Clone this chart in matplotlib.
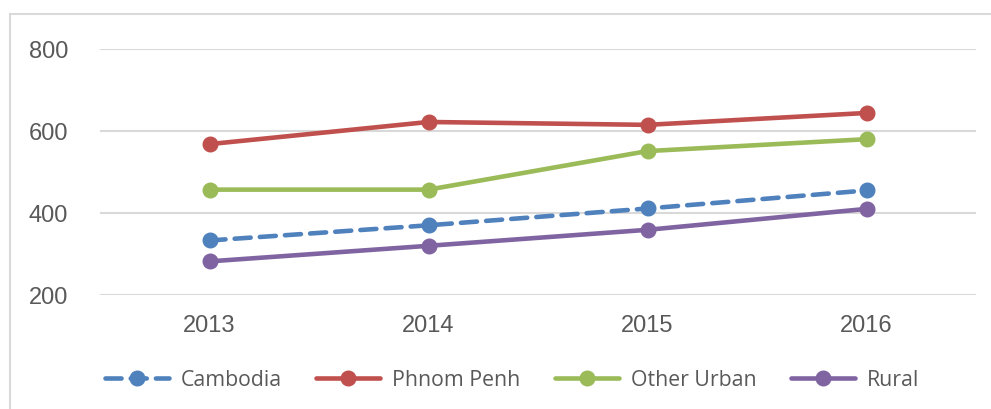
import matplotlib
matplotlib.use("Agg")
import matplotlib.pyplot as plt
from matplotlib.patches import Rectangle

years = ["2013", "2014", "2015", "2016"]
cambodia = [333, 370, 411, 455]
phnom_penh = [568, 622, 615, 644]
other_urban = [457, 457, 551, 580]
rural = [282, 320, 359, 410]
y_ticks = [200, 400, 600, 800]

W, H = 991, 410
fig = plt.figure(figsize=(W / 100, H / 100), dpi=100)

# outer chart frame
fig.patches.append(Rectangle((10 / W, -0.1), 1.2, 1 - 15 / H + 0.1, transform=fig.transFigure,
                             fill=False, edgecolor="#D9D9D9", linewidth=1.5, zorder=0))

ax = fig.add_axes([100 / W, 1 - 296 / H, (976 - 100) / W, (296 - 50) / H])
x = [i + 0.5 for i in range(len(years))]

lw = 3.3
ms = 10.5
series = [
    ("Cambodia", cambodia, "#4F81BD", "dashed"),
    ("Phnom Penh", phnom_penh, "#C0504D", "solid"),
    ("Other Urban", other_urban, "#9BBB59", "solid"),
    ("Rural", rural, "#8064A2", "solid"),
]
for name, vals, col, style in series:
    if style == "dashed":
        ax.plot(x, vals, color=col, lw=lw, marker="o", ms=ms, dashes=(3.5, 2),
                dash_capstyle="round", label=name, zorder=3)
    else:
        ax.plot(x, vals, color=col, lw=lw, marker="o", ms=ms,
                solid_capstyle="round", label=name, zorder=3)

ax.set_xlim(0, len(years))
ax.set_ylim(200, 800)
ax.set_yticks(y_ticks)
ax.set_xticks(x)
ax.set_xticklabels(years)
ax.grid(axis="y", color="#D9D9D9", lw=1.5)
ax.set_axisbelow(True)
for s in ax.spines.values():
    s.set_visible(False)
ax.tick_params(length=0, labelsize=17, colors="#595959", labelfontfamily="Liberation Sans")
ax.tick_params(axis="y", pad=23)
ax.tick_params(axis="x", pad=14)

fig.legend(loc="center", bbox_to_anchor=(512 / W, 1 - 381 / H), ncol=4, frameon=False,
           prop={"family": "Open Sans", "size": 15.3}, labelcolor="#595959",
           handlelength=3.0, handletextpad=0.55, columnspacing=1.65)

fig.savefig("out.png", dpi=100)
